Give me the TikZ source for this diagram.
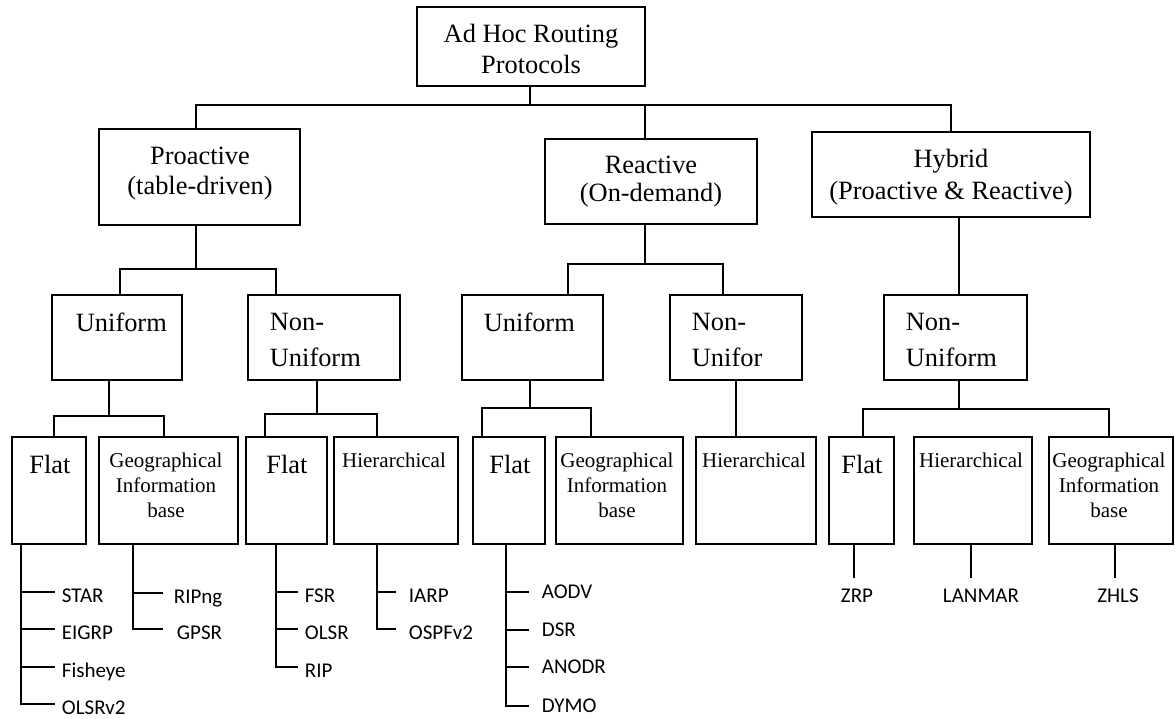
\documentclass[tikz,border=0pt]{standalone}
\usepackage{fontspec}
\setmainfont{Liberation Serif}
\newfontfamily\leaffont{Carlito}
\begin{document}
\begin{tikzpicture}[x=1pt,y=-1pt,line width=1.8pt,
  box/.style={draw,line width=1.8pt,inner sep=0pt,outer sep=0pt},
  big/.style={font=\fontsize{26.4}{31}\selectfont,inner sep=0pt},
  small/.style={font=\fontsize{21}{25}\selectfont,inner sep=0pt},
  leaf/.style={font=\leaffont\fontsize{21}{25}\selectfont,inner sep=0pt,
    anchor=west,text height=20pt,text depth=0pt},
  leafr/.style={leaf,text height=13pt},
  single/.style={font=\leaffont\fontsize{21}{25}\selectfont,inner sep=0pt,anchor=base}]
\useasboundingbox (0,0) rectangle (1175,718);
\fill[white] (0,0) rectangle (1175,718);

% ---------- boxes ----------
\node[box,minimum width=228pt,minimum height=79pt] (root) at (531,46.5) {};
\node[box,minimum width=201pt,minimum height=96pt] (pro) at (199.5,177) {};
\node[box,minimum width=212pt,minimum height=85pt] (rea) at (651,181.5) {};
\node[box,minimum width=278pt,minimum height=85pt] (hyb) at (951,174.5) {};

\node[box,minimum width=130pt,minimum height=85pt] (pu)  at (117,337.5) {};
\node[box,minimum width=152pt,minimum height=85pt] (pnu) at (324,337.5) {};
\node[box,minimum width=141pt,minimum height=85pt] (ru)  at (532.5,337.5) {};
\node[box,minimum width=132pt,minimum height=85pt] (rnu) at (736,337.5) {};
\node[box,minimum width=143pt,minimum height=85pt] (hnu) at (955.5,337.5) {};

\node[box,minimum width=74pt,minimum height=107pt]  (pf) at (49,490.5) {};
\node[box,minimum width=139pt,minimum height=107pt] (pg) at (168.5,490.5) {};
\node[box,minimum width=81pt,minimum height=107pt]  (nf) at (286.5,490.5) {};
\node[box,minimum width=124pt,minimum height=107pt] (nh) at (396,490.5) {};
\node[box,minimum width=72pt,minimum height=107pt]  (rf) at (509,490.5) {};
\node[box,minimum width=127pt,minimum height=107pt] (rg) at (619.5,490.5) {};
\node[box,minimum width=120pt,minimum height=107pt] (rh) at (756,490.5) {};
\node[box,minimum width=65pt,minimum height=107pt]  (hf) at (861.5,490.5) {};
\node[box,minimum width=118pt,minimum height=107pt] (hh) at (973,490.5) {};
\node[box,minimum width=124pt,minimum height=107pt] (hg) at (1111,490.5) {};

% ---------- box texts ----------
\node[big,anchor=base] (rootA) at (531,42) {Ad Hoc Routing};
\node[big,anchor=base] (rootB) at (531,73) {Protocols};
\node[big,anchor=base] (proA) at (200,164) {Proactive};
\node[big,anchor=base] (proB) at (200,194) {(table-driven)};
\node[big,anchor=base] (reaA) at (651,173) {Reactive};
\node[big,anchor=base] (reaB) at (651,201) {(On-demand)};
\node[big,anchor=base] (hybA) at (951,167) {Hybrid};
\node[big,anchor=base] (hybB) at (951,199) {(Proactive \& Reactive)};

\node[big,anchor=base west] (puA) at (75,331) {Uniform};
\node[big,anchor=base west] (pnuA) at (269,330) {Non-};
\node[big,anchor=base west] (pnuB) at (269,366) {Uniform};
\node[big,anchor=base west] (ruA) at (483,331) {Uniform};
\node[big,anchor=base west] (rnuA) at (691,330) {Non-};
\node[big,anchor=base west] (rnuB) at (691,366) {Unifor};
\node[big,anchor=base west] (hnuA) at (905,330) {Non-};
\node[big,anchor=base west] (hnuB) at (905,366) {Uniform};

\node[big,anchor=base] (pfA) at (50,473) {Flat};
\node[big,anchor=base] (nfA) at (287,473) {Flat};
\node[big,anchor=base] (rfA) at (510,473) {Flat};
\node[big,anchor=base] (hfA) at (862,473) {Flat};

\node[small,anchor=base] (pgA) at (166,467) {Geographical};
\node[small,anchor=base] (pgB) at (166,492) {Information};
\node[small,anchor=base] (pgC) at (166,517) {base};
\node[small,anchor=base] (rgA) at (617,467) {Geographical};
\node[small,anchor=base] (rgB) at (617,492) {Information};
\node[small,anchor=base] (rgC) at (617,517) {base};
\node[small,anchor=base] (hgA) at (1109,467) {Geographical};
\node[small,anchor=base] (hgB) at (1109,492) {Information};
\node[small,anchor=base] (hgC) at (1109,517) {base};

\node[small,anchor=base] (nhA) at (394,467) {Hierarchical};
\node[small,anchor=base] (rhA) at (754,467) {Hierarchical};
\node[small,anchor=base] (hhA) at (971,467) {Hierarchical};

% ---------- tree connectors ----------
\coordinate (topJ) at (530,105);
\coordinate (topL) at (196,105);
\coordinate (topR) at (951,105);
\coordinate (reaJ) at (645,105);
\draw (root.south -| topJ) -- (topJ);
\draw (topL |- pro.north) -- (topL) -- (topR) -- (topR |- hyb.north);
\draw (reaJ) -- (reaJ |- rea.north);

\coordinate (proJ) at (196,269);
\coordinate (proL) at (120,269);
\coordinate (proR) at (276,269);
\draw (pro.south -| proJ) -- (proJ);
\draw (proL |- pu.north) -- (proL) -- (proR) -- (proR |- pnu.north);

\coordinate (reaS) at (645,264);
\coordinate (reaL) at (568,264);
\coordinate (reaR) at (723,264);
\draw (rea.south -| reaS) -- (reaS);
\draw (reaL |- ru.north) -- (reaL) -- (reaR) -- (reaR |- rnu.north);

\coordinate (hybJ) at (959,295);
\draw (hyb.south -| hybJ) -- (hybJ |- hnu.north);

\coordinate (puJ) at (109,416);
\coordinate (puL) at (54,416);
\coordinate (puR) at (164,416);
\draw (pu.south -| puJ) -- (puJ);
\draw (puL |- pf.north) -- (puL) -- (puR) -- (puR |- pg.north);

\coordinate (pnuJ) at (317,414);
\coordinate (pnuL) at (265,414);
\coordinate (pnuR) at (377,414);
\draw (pnu.south -| pnuJ) -- (pnuJ);
\draw (pnuL |- nf.north) -- (pnuL) -- (pnuR) -- (pnuR |- nh.north);

\coordinate (ruJ) at (530,408);
\coordinate (ruL) at (482,408);
\coordinate (ruR) at (591,408);
\draw (ru.south -| ruJ) -- (ruJ);
\draw (ruL |- rf.north) -- (ruL) -- (ruR) -- (ruR |- rg.north);

\draw (rnu.south) -- (rnu.south |- rh.north);

\coordinate (hnuJ) at (959,409);
\coordinate (hnuL) at (863,409);
\coordinate (hnuR) at (1109,409);
\draw (hnu.south -| hnuJ) -- (hnuJ);
\draw (hnuL |- hf.north) -- (hnuL) -- (hnuR) -- (hnuR |- hg.north);

% ---------- protocol lists ----------
\node[leaf] (star) at (61,592) {STAR};
\node[leaf] (eigrp) at (61,629) {EIGRP};
\node[leaf] (fisheye) at (61,667) {Fisheye};
\node[leaf] (olsrv2) at (61,704) {OLSRv2};
\coordinate (pfT) at (21,0);
\draw (pf.south -| pfT) -- (pfT |- olsrv2.west) -- ([xshift=-6pt]olsrv2.west);
\foreach \n in {star,eigrp,fisheye}
  \draw (pfT |- \n.west) -- ([xshift=-6pt]\n.west);

\node[leaf] (ripng) at (173,593) {RIPng};
\node[leaf] (gpsr) at (176,629) {GPSR};
\coordinate (pgT) at (133,0);
\draw (pg.south -| pgT) -- (pgT |- gpsr.west) -- ([xshift=-13pt]gpsr.west);
\draw (pgT |- ripng.west) -- ([xshift=-10pt]ripng.west);

\node[leaf] (fsr) at (304,592) {FSR};
\node[leaf] (olsr) at (304,629) {OLSR};
\node[leaf] (rip) at (304,667) {RIP};
\coordinate (nfT) at (276,0);
\draw (nf.south -| nfT) -- (nfT |- rip.west) -- ([xshift=-6pt]rip.west);
\foreach \n in {fsr,olsr}
  \draw (nfT |- \n.west) -- ([xshift=-6pt]\n.west);

\node[leaf] (iarp) at (408,592) {IARP};
\node[leaf] (ospf) at (408,629) {OSPFv2};
\coordinate (nhT) at (377,0);
\draw (nh.south -| nhT) -- (nhT |- ospf.west) -- ([xshift=-12pt]ospf.west);
\draw (nhT |- iarp.west) -- ([xshift=-12pt]iarp.west);

\node[leafr] (aodv) at (541,592) {AODV};
\node[leafr] (dsr) at (541,630) {DSR};
\node[leafr] (anodr) at (541,667) {ANODR};
\node[leafr] (dymo) at (541,706) {DYMO};
\coordinate (rfT) at (506,0);
\draw (rf.south -| rfT) -- (rfT |- dymo.west) -- ([xshift=-12pt]dymo.west);
\foreach \n in {aodv,dsr,anodr}
  \draw (rfT |- \n.west) -- ([xshift=-12pt]\n.west);

\node[single] (zrp) at (857,602) {ZRP};
\node[single] (lanmar) at (981,602) {LANMAR};
\node[single] (zhls) at (1118,602) {ZHLS};
\coordinate (zrpT) at (854,578);
\coordinate (lanmarT) at (971,578);
\coordinate (zhlsT) at (1115,578);
\draw (hf.south -| zrpT) -- (zrpT);
\draw (hh.south -| lanmarT) -- (lanmarT);
\draw (hg.south -| zhlsT) -- (zhlsT);
\end{tikzpicture}
\end{document}
